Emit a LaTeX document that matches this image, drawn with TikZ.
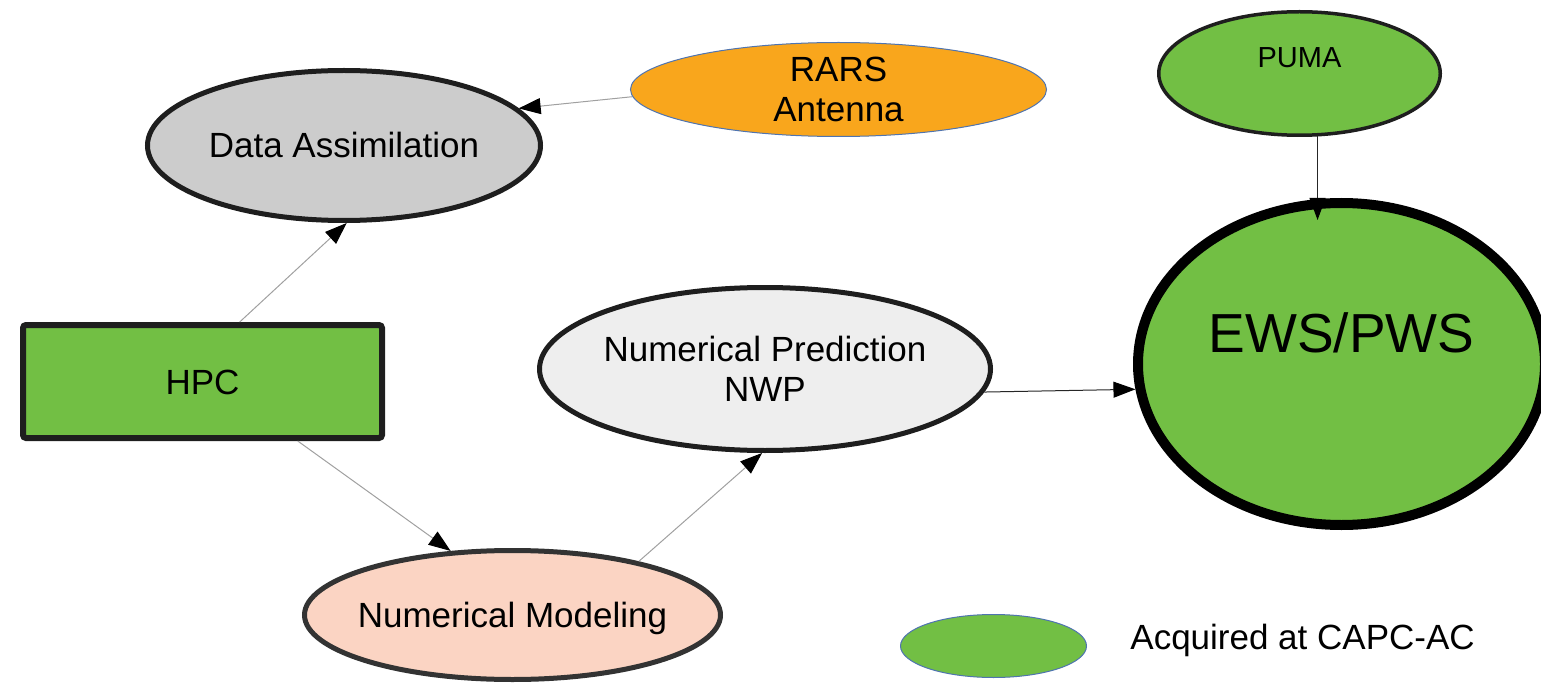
\documentclass[tikz,border=0pt]{standalone}
\usepackage{fontspec}
\setmainfont{Liberation Sans}
\usetikzlibrary{shapes.geometric,arrows.meta,calc}
\definecolor{cgreen}{HTML}{72BF44}
\definecolor{corange}{HTML}{F9A61C}
\definecolor{cgrayda}{HTML}{CCCCCC}
\definecolor{cgraynwp}{HTML}{EEEEEE}
\definecolor{cpeach}{HTML}{FBD4C3}
\definecolor{cblueline}{HTML}{4F74B0}
\definecolor{clinegray}{HTML}{A0A0A0}
\definecolor{cborder}{HTML}{1E1E1E}
\definecolor{cborderb}{HTML}{333333}
\begin{document}
\begin{tikzpicture}[x=0.5pt,y=-0.5pt,
  base/.style={font=\fontsize{17.5pt}{20pt}\selectfont, inner sep=0pt, text=black},
  ell/.style={base, ellipse, draw, inner xsep=-15pt},
  capline/.style={text height=12.5pt, text depth=0pt},
  conn/.style={line width=0.5pt, draw=clinegray, -{Triangle[length=11pt,width=8pt,color=black]}},
  conndark/.style={conn, draw=black!85},
]
\useasboundingbox (0,0) rectangle (1541,684);
\clip (0,0) rectangle (1541,684);

% nodes
\node[ell, capline, fill=cgrayda, draw=cborder, line width=2.5pt,
      minimum width=196.5pt, minimum height=75pt] (da) at (344,145.5) {Data Assimilation};
\node[ell, align=center, fill=corange, draw=cblueline, line width=0.5pt,
      minimum width=208pt, minimum height=47pt] (rars) at (838.5,89.5) {RARS\\Antenna};
\node[ell, fill=cgreen, draw=cborder, line width=1.75pt,
      font=\fontsize{14.5pt}{17pt}\selectfont, text height=10.4pt, text depth=15.9pt,
      minimum width=140.75pt, minimum height=61.75pt] (puma) at (1299.5,73.5) {PUMA};
\node[ell, fill=cgreen, draw=black, line width=5pt,
      font=\fontsize{27.5pt}{32pt}\selectfont, text height=19.7pt, text depth=31.7pt,
      minimum width=203.5pt, minimum height=161pt] (ews) at (1341.5,364) {EWS/PWS};
\node[base, capline, rectangle, draw=cborder, fill=cgreen, line width=3pt, rounded corners=1.5pt,
      minimum width=179.5pt, minimum height=56.5pt] (hpc) at (202.5,381.5) {HPC};
\node[ell, align=center, fill=cgraynwp, draw=cborder, line width=2.5pt,
      minimum width=225.5pt, minimum height=81.5pt] (nwp) at (765,369) {Numerical Prediction\\NWP};
\node[ell, capline, fill=cpeach, draw=cborderb, line width=2.5pt,
      minimum width=208pt, minimum height=64.5pt] (nm) at (512.5,615) {Numerical Modeling};
\node[ell, fill=cgreen, draw=cblueline, line width=0.5pt,
      minimum width=93pt, minimum height=31.5pt] (leg) at (993.5,646) {};
\node[base, font=\fontsize{17.5pt}{21pt}\selectfont, anchor=base west] (legtext) at (1130,649) {Acquired at CAPC-AC};

% connectors
\draw[conn] (rars.182.7) -- (da.12.8);
\draw[conn] (hpc.58) -- (da.272);
\draw[conn] (hpc.-32.6) -- (nm.134);
\draw[conn] (nm.23) -- (nwp.268);
\draw[conndark] (nwp.-6) -- (ews.187.8);
\coordinate (pumaend) at ($(puma.-74 |- ews.north)+(0,22)$);
\draw[conndark] (puma.-74) -- (pumaend);
\end{tikzpicture}
\end{document}
